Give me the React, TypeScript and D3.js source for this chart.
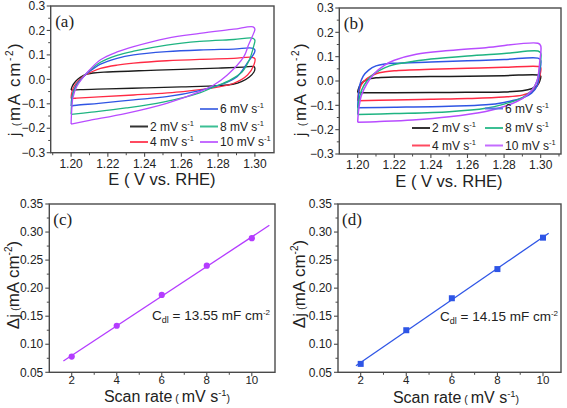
import React from "react";
import * as d3 from "d3";

// ---------- data ----------
const scanRates = [2, 4, 6, 8, 10];
const seriesColors = ["#1c1c1c", "#ff2a44", "#2f55e4", "#1fb482", "#b84cff"];
const legendColors = ["#333333", "#ff4a60", "#5a78e6", "#3cbf94", "#c46cff"];

const cvTicksX = [1.2, 1.22, 1.24, 1.26, 1.28, 1.3];
const cvTicksY = [-0.3, -0.2, -0.1, 0.0, 0.1, 0.2, 0.3];
const fitTicksX = [2, 4, 6, 8, 10];
const fitTicksY = [0.05, 0.1, 0.15, 0.2, 0.25, 0.3, 0.35];

// panel (a) CV loops [E, j]
const cvA2 = [[1.2, -0.044], [1.2005, -0.03], [1.2025, -0.008], [1.205, 0.008], [1.208, 0.02], [1.212, 0.026], [1.22, 0.03], [1.24, 0.036], [1.26, 0.041], [1.28, 0.046], [1.294, 0.05], [1.2995, 0.052], [1.3, 0.045], [1.2995, 0.03], [1.297, 0.01], [1.293, -0.008], [1.288, -0.02], [1.28, -0.026], [1.26, -0.031], [1.24, -0.035], [1.22, -0.039], [1.205, -0.042], [1.2, -0.044]];
const cvA4 = [[1.2, -0.078], [1.2003, -0.055], [1.2015, -0.03], [1.204, -0.005], [1.207, 0.015], [1.211, 0.03], [1.216, 0.045], [1.225, 0.058], [1.234, 0.066], [1.252, 0.076], [1.27, 0.082], [1.2885, 0.086], [1.2985, 0.09], [1.3, 0.085], [1.2995, 0.06], [1.296, 0.018], [1.2885, -0.016], [1.279, -0.033], [1.261, -0.05], [1.234, -0.064], [1.215, -0.072], [1.203, -0.077], [1.2, -0.078]];
const cvA6 = [[1.2, -0.109], [1.2003, -0.08], [1.2012, -0.05], [1.203, -0.02], [1.206, 0.005], [1.21, 0.032], [1.216, 0.062], [1.225, 0.086], [1.234, 0.1], [1.252, 0.113], [1.27, 0.12], [1.2885, 0.124], [1.299, 0.127], [1.3, 0.12], [1.2998, 0.11], [1.2958, 0.066], [1.2903, 0.011], [1.281, -0.023], [1.27, -0.046], [1.252, -0.071], [1.234, -0.084], [1.215, -0.098], [1.203, -0.106], [1.2, -0.109]];
const cvA8 = [[1.2, -0.143], [1.2003, -0.1], [1.201, -0.06], [1.203, -0.025], [1.206, 0.005], [1.21, 0.036], [1.216, 0.07], [1.225, 0.098], [1.234, 0.115], [1.252, 0.14], [1.27, 0.155], [1.2885, 0.163], [1.299, 0.168], [1.3, 0.16], [1.2995, 0.14], [1.297, 0.08], [1.293, 0.03], [1.286, -0.005], [1.278, -0.03], [1.27, -0.055], [1.25, -0.093], [1.23, -0.117], [1.21, -0.135], [1.2, -0.143]];
const cvA10 = [[1.2, -0.183], [1.2003, -0.13], [1.201, -0.075], [1.203, -0.03], [1.206, 0.003], [1.21, 0.038], [1.216, 0.08], [1.225, 0.112], [1.234, 0.134], [1.252, 0.168], [1.27, 0.188], [1.2885, 0.205], [1.299, 0.215], [1.3, 0.205], [1.2994, 0.19], [1.2965, 0.14], [1.294, 0.093], [1.285, 0.018], [1.2776, -0.023], [1.27, -0.05], [1.252, -0.098], [1.23, -0.139], [1.21, -0.168], [1.2, -0.183]];

// panel (b) CV loops [E, j]
const cvB2 = [[1.2, -0.048], [1.2003, -0.035], [1.202, -0.01], [1.205, 0.005], [1.21, 0.013], [1.22, 0.016], [1.25, 0.019], [1.28, 0.022], [1.2985, 0.025], [1.3, 0.02], [1.2995, 0.0], [1.298, -0.02], [1.295, -0.032], [1.29, -0.04], [1.28, -0.045], [1.25, -0.047], [1.22, -0.048], [1.2, -0.048]];
const cvB4 = [[1.2, -0.081], [1.2005, -0.05], [1.202, -0.015], [1.205, 0.01], [1.21, 0.03], [1.215, 0.038], [1.22, 0.042], [1.24, 0.048], [1.26, 0.052], [1.28, 0.056], [1.2985, 0.06], [1.3, 0.055], [1.2995, 0.02], [1.298, -0.02], [1.295, -0.045], [1.29, -0.058], [1.28, -0.066], [1.26, -0.072], [1.24, -0.075], [1.22, -0.078], [1.2, -0.081]];
const cvB6 = [[1.2, -0.11], [1.2003, -0.07], [1.201, -0.02], [1.203, 0.02], [1.206, 0.045], [1.21, 0.062], [1.215, 0.07], [1.22, 0.073], [1.24, 0.078], [1.26, 0.083], [1.28, 0.088], [1.2985, 0.094], [1.3, 0.085], [1.2995, 0.04], [1.298, -0.02], [1.295, -0.05], [1.29, -0.07], [1.28, -0.088], [1.27, -0.098], [1.25, -0.104], [1.22, -0.108], [1.2, -0.11]];
const cvB8 = [[1.2, -0.138], [1.2005, -0.09], [1.202, -0.04], [1.205, 0.0], [1.209, 0.03], [1.215, 0.055], [1.22, 0.068], [1.23, 0.08], [1.24, 0.09], [1.26, 0.103], [1.28, 0.113], [1.2985, 0.123], [1.3, 0.115], [1.2995, 0.06], [1.298, 0.0], [1.295, -0.04], [1.29, -0.068], [1.28, -0.095], [1.27, -0.112], [1.25, -0.126], [1.22, -0.134], [1.2, -0.138]];
const cvB10 = [[1.2, -0.17], [1.2005, -0.12], [1.202, -0.06], [1.205, -0.012], [1.209, 0.03], [1.215, 0.066], [1.22, 0.085], [1.232, 0.11], [1.25, 0.125], [1.27, 0.137], [1.2985, 0.155], [1.3, 0.145], [1.2995, 0.08], [1.298, 0.0], [1.295, -0.04], [1.29, -0.072], [1.28, -0.105], [1.27, -0.125], [1.25, -0.147], [1.23, -0.16], [1.21, -0.167], [1.2, -0.17]];

// panels (c), (d): Δj vs scan rate
const deltaJc = [0.078, 0.133, 0.188, 0.24, 0.289];
const deltaJd = [0.065, 0.125, 0.182, 0.234, 0.29];
const fitRangeC = [1.63, 10.78];
const fitRangeD = [1.79, 10.25];
const cdlC = "13.55";
const cdlD = "14.15";
const colorC = "#b43cff";
const colorD = "#2e55e6";

// ---------- helpers ----------
const FONT = "'Liberation Sans', Arial, sans-serif";
const SERIF = "'Liberation Serif', 'Times New Roman', serif";
const FRAME = "#4a4a4a";

function minorTicks(majors: number[], domain: number[]) {
  const step = majors[1] - majors[0];
  const out: number[] = [];
  const lo = Math.min(domain[0], domain[1]);
  const hi = Math.max(domain[0], domain[1]);
  for (let i = -1; i < majors.length; i++) {
    const v = majors[0] + (i + 0.5) * step;
    if (v > lo + step * 0.05 && v < hi - step * 0.05) out.push(v);
  }
  return out;
}

function Axes({ f, x, y, xt, yt, xFmt, yFmt, xLabDy, yLabDx, tickFont }: any) {
  const xMin = minorTicks(xt, x.domain());
  const yMin = minorTicks(yt, y.domain());
  return (
    <g>
      <rect x={f.l} y={f.t} width={f.r - f.l} height={f.b - f.t} fill="none" stroke={FRAME} strokeWidth={1.4} />
      {xt.map((v: number, i: number) => (
        <g key={"xt" + i}>
          <line x1={x(v)} x2={x(v)} y1={f.b} y2={f.b + 4} stroke={FRAME} strokeWidth={1.1} />
          <text x={x(v)} y={f.b + xLabDy} fontSize={tickFont} fontFamily={FONT} textAnchor="middle" fill="#222">{xFmt(v)}</text>
        </g>
      ))}
      {xMin.map((v: number, i: number) => (
        <line key={"xm" + i} x1={x(v)} x2={x(v)} y1={f.b} y2={f.b + 2.5} stroke={FRAME} strokeWidth={1} />
      ))}
      {yt.map((v: number, i: number) => (
        <g key={"yt" + i}>
          <line x1={f.l - 4} x2={f.l} y1={y(v)} y2={y(v)} stroke={FRAME} strokeWidth={1.1} />
          <text x={f.l - yLabDx} y={y(v) + 4.2} fontSize={12} fontFamily={FONT} textAnchor="end" fill="#222">{yFmt(v)}</text>
        </g>
      ))}
      {yMin.map((v: number, i: number) => (
        <line key={"ym" + i} x1={f.l - 2.5} x2={f.l} y1={y(v)} y2={y(v)} stroke={FRAME} strokeWidth={1} />
      ))}
    </g>
  );
}

function YTitle({ x, cy, prefix, spacing }: any) {
  return (
    <text transform={`translate(${x},${cy}) rotate(-90)`} textAnchor="middle" fontFamily={FONT} fontSize={17} fill="#222" letterSpacing={spacing}>
      {prefix}
      <tspan fontSize={11}> (</tspan>
      <tspan>mA cm</tspan>
      <tspan fontSize={10} dy={-7}>-2</tspan>
      <tspan dy={7}>)</tspan>
    </text>
  );
}

function CVPanel({ f, xDomain, loops, label, legend, xTitle, yTitle, lineW }: any) {
  const x = d3.scaleLinear().domain(xDomain).range([f.l, f.r]);
  const y = d3.scaleLinear().domain([-0.3, 0.3]).range([f.b, f.t]);
  const line = d3.line<number[]>().x((d) => x(d[0])).y((d) => y(d[1])).curve(d3.curveCatmullRom.alpha(0.5));
  return (
    <g>
      <defs>
        <clipPath id={"clip" + label}>
          <rect x={f.l} y={f.t} width={f.r - f.l} height={f.b - f.t} />
        </clipPath>
      </defs>
      <g clipPath={`url(#clip${label})`}>
        {loops.map((pts: number[][], i: number) => (
          <path key={i} d={line(pts) || ""} fill="none" stroke={seriesColors[i]} strokeWidth={lineW} strokeLinejoin="round" />
        ))}
      </g>
      <Axes f={f} x={x} y={y} xt={cvTicksX} yt={cvTicksY} xFmt={d3.format(".2f")} yFmt={d3.format(".1f")} xLabDy={14.8} yLabDx={5.5} tickFont={12} />
      <text x={f.l + 4.5} y={f.t + 21} fontFamily={SERIF} fontSize={17} fill="#222">({label})</text>
      {legend.map((it: any, i: number) => (
        <g key={"lg" + i}>
          <line x1={it.x} x2={it.x + 18} y1={it.y} y2={it.y} stroke={legendColors[it.s]} strokeWidth={2} />
          <text x={it.x + 20} y={it.y + 4.3} fontFamily={FONT} fontSize={12} fill="#222">
            {scanRates[it.s]} mV s<tspan fontSize={7.5} dy={-5}>-1</tspan>
          </text>
        </g>
      ))}
      <text x={xTitle.x} y={xTitle.y} textAnchor="middle" fontFamily={FONT} fontSize={16.5} fill="#222">E ( V vs. RHE)</text>
      <YTitle x={yTitle.x} cy={yTitle.y} prefix="j" spacing={1.6} />
    </g>
  );
}

function FitPanel({ f, xDomain, values, fitRange, color, label, cdl, cdlPos, xTitle, yTitle, marker }: any) {
  const x = d3.scaleLinear().domain(xDomain).range([f.l, f.r]);
  const y = d3.scaleLinear().domain([0.05, 0.35]).range([f.b, f.t]);
  const n = scanRates.length;
  const mx = d3.mean(scanRates) as number;
  const my = d3.mean(values as number[]) as number;
  let sxy = 0, sxx = 0;
  for (let i = 0; i < n; i++) {
    sxy += (scanRates[i] - mx) * (values[i] - my);
    sxx += (scanRates[i] - mx) ** 2;
  }
  const slope = sxy / sxx;
  const icpt = my - slope * mx;
  return (
    <g>
      <line x1={x(fitRange[0])} y1={y(icpt + slope * fitRange[0])} x2={x(fitRange[1])} y2={y(icpt + slope * fitRange[1])} stroke={color} strokeWidth={1.3} />
      {scanRates.map((v, i) =>
        marker === "circle" ? (
          <circle key={i} cx={x(v)} cy={y(values[i])} r={3.1} fill={color} />
        ) : (
          <rect key={i} x={x(v) - 3} y={y(values[i]) - 3} width={6} height={6} fill={color} />
        )
      )}
      <Axes f={f} x={x} y={y} xt={fitTicksX} yt={fitTicksY} xFmt={d3.format("d")} yFmt={d3.format(".2f")} xLabDy={11.8} yLabDx={6} tickFont={11.5} />
      <text x={f.l + 4} y={f.t + 21} fontFamily={SERIF} fontSize={17} fill="#222">({label})</text>
      <text x={cdlPos.x} y={cdlPos.y} fontFamily={FONT} fontSize={13.5} fill="#222">
        C<tspan fontSize={9} dy={3}>dl</tspan>
        <tspan dy={-3}> = {cdl} mF cm</tspan>
        <tspan fontSize={8} dy={-5}>-2</tspan>
      </text>
      <text x={xTitle.x} y={xTitle.y} textAnchor="middle" fontFamily={FONT} fontSize={16} fill="#222">
        Scan rate<tspan fontSize={10.5}> ( </tspan>mV s<tspan fontSize={9.5} dy={-6.5}>-1</tspan><tspan fontSize={10.5} dy={6.5}>)</tspan>
      </text>
      <YTitle x={yTitle.x} cy={yTitle.y} prefix="Δj" spacing={0} />
    </g>
  );
}

export default function App() {
  const legendA = [
    { s: 2, x: 200, y: 109 },
    { s: 0, x: 130, y: 126.5 },
    { s: 3, x: 200, y: 126.5 },
    { s: 1, x: 130, y: 142 },
    { s: 4, x: 200, y: 142 },
  ];
  const legendB = [
    { s: 2, x: 485, y: 108.5 },
    { s: 0, x: 412, y: 128 },
    { s: 3, x: 485, y: 128 },
    { s: 1, x: 412, y: 145.5 },
    { s: 4, x: 485, y: 145.5 },
  ];
  return (
    <svg width={567} height={408} viewBox="0 0 567 408" style={{ position: "absolute", left: 0, top: 0, background: "#fff" }}>
      <rect x={0} y={0} width={567} height={408} fill="#fff" />
      <CVPanel
        f={{ l: 50.7, r: 274, t: 6, b: 152.7 }}
        xDomain={[1.1889, 1.3104]}
        loops={[cvA2, cvA4, cvA6, cvA8, cvA10]}
        label="a"
        legend={legendA}
        xTitle={{ x: 162, y: 185 }}
        yTitle={{ x: 19.5, y: 89 }}
        lineW={1.3}
      />
      <CVPanel
        f={{ l: 339.3, r: 561, t: 8, b: 154 }}
        xDomain={[1.18995, 1.3111]}
        loops={[cvB2, cvB4, cvB6, cvB8, cvB10]}
        label="b"
        legend={legendB}
        xTitle={{ x: 449, y: 186.5 }}
        yTitle={{ x: 306, y: 89 }}
        lineW={1.5}
      />
      <FitPanel
        f={{ l: 49.3, r: 275, t: 204, b: 372.3 }}
        xDomain={[1.004, 11.03]}
        values={deltaJc}
        fitRange={fitRangeC}
        color={colorC}
        label="c"
        cdl={cdlC}
        cdlPos={{ x: 152, y: 320 }}
        xTitle={{ x: 167, y: 402 }}
        yTitle={{ x: 18.5, y: 285 }}
        marker="circle"
      />
      <FitPanel
        f={{ l: 338, r: 561, t: 204, b: 372.3 }}
        xDomain={[1.004, 10.79]}
        values={deltaJd}
        fitRange={fitRangeD}
        color={colorD}
        label="d"
        cdl={cdlD}
        cdlPos={{ x: 440, y: 321 }}
        xTitle={{ x: 456, y: 403 }}
        yTitle={{ x: 305, y: 284 }}
        marker="square"
      />
    </svg>
  );
}
